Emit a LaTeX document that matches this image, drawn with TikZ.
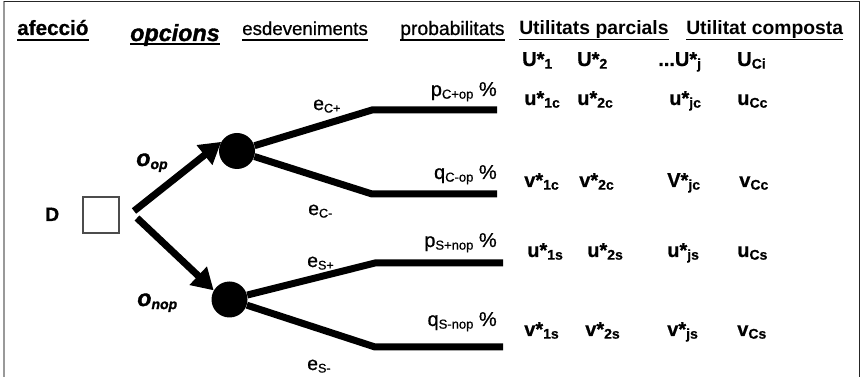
\documentclass[tikz,border=0pt]{standalone}
\usepackage{fontspec}
\usepackage{graphicx}
\setmainfont{Liberation Sans}
\newfontfamily\heavyit[FakeBold=1.5]{Liberation Sans Bold Italic}
\newfontfamily\medium[FakeBold=0.7]{Liberation Sans}
\newfontfamily\heavy[FakeBold=0.6]{Liberation Sans Bold}
\usetikzlibrary{arrows.meta}

% small lowered index text
\newcommand\lo[2][0.65]{\raisebox{-0.25ex}{\scalebox{#1}{#2}}}
\newcommand\fsz[1]{\fontsize{#1}{#1}\selectfont}

\begin{document}
\begin{tikzpicture}[x=0.75pt,y=-0.75pt,
  txt/.style={inner sep=0pt, anchor=base west},
  head/.style={txt, font=\medium\fsz{14.5}},
  headbf/.style={txt, font=\bfseries\fsz{14.5}},
  val/.style={txt, font=\heavy\fsz{15}},
  prob/.style={inner sep=0pt, anchor=base east, font=\medium\fsz{15}},
  evt/.style={txt, font=\medium\fsz{14.5}},
  opt/.style={txt, font=\heavyit\fsz{17.5}},
  ulthick/.style={line width=1.5pt},
  ulthin/.style={line width=0.8pt},
  branch/.style={line width=5.25pt},
  choice/.style={branch, -{Triangle[length=16pt,width=18pt]}},
  chance/.style={circle, fill=black, inner sep=0pt, minimum size=27pt},
  decision/.style={draw=black!70, line width=0.8pt, fill=white, inner sep=0pt, minimum size=27pt}
]
\useasboundingbox (0,0) rectangle (864,377);

% frame (open at the bottom)
\draw[gray!80, line width=1.3pt] (4,377) -- (4,1.5);
\draw[black!85, line width=1pt] (4,1.5) -- (859.5,1.5) -- (859.5,377);

% column headings
\node[headbf, font=\heavy\fsz{15.5}] (hAf) at (17,35) {afecció};
\node[opt] (hOp) at (130,41) {opcions};
\node[head, font=\medium\fsz{14}] (hEs) at (242,35) {esdeveniments};
\node[head] (hPr) at (400,35) {probabilitats};
\node[headbf] (hUp) at (519,35) {Utilitats parcials};
\node[headbf] (hUc) at (686,35) {Utilitat composta};
\foreach \n in {hAf,hEs,hPr}
  \draw[ulthick] ([yshift=-3.5pt]\n.base west) -- ([yshift=-3.5pt]\n.base east);
\draw[ulthick] ([yshift=-2.6pt]hOp.base west) -- ([yshift=-2.6pt]hOp.base east);
\foreach \n in {hUp,hUc}
  \draw[ulthin] ([yshift=-3.3pt]\n.base west) -- ([yshift=-3.3pt]\n.base east);

% decision node and options
\node[txt, font=\heavy\fsz{14.5}] (dLab) at (45,221) {D};
\node[decision] (dsq) at (101,215) {};
\node[chance] (c1) at (237,151) {};
\node[chance] (c2) at (229.5,299.5) {};
\coordinate (s1) at (134,211);
\coordinate (s2) at (137,218);
\draw[choice] (s1) -- (c1.150);
\draw[choice] (s2) -- (c2.150);
\node[opt] (oOp) at (136,166) {o\lo[0.6]{op}};
\node[opt] (oNop) at (137,306) {o\lo[0.6]{nop}};

% event branches
\coordinate (b1) at (372,110); \coordinate (e1) at (497,110);
\coordinate (b2) at (372,194); \coordinate (e2) at (497,194);
\coordinate (b3) at (375,263); \coordinate (e3) at (503,263);
\coordinate (b4) at (375,347); \coordinate (e4) at (503,347);
\draw[branch] (c1) -- (b1) -- (e1);
\draw[branch] (c1) -- (b2) -- (e2);
\draw[branch] (c2) -- (b3) -- (e3);
\draw[branch] (c2) -- (b4) -- (e4);

\node[evt] (ev1) at (313,110) {e\lo{C+}};
\node[evt] (ev2) at (308,215) {e\lo{C-}};
\node[evt] (ev3) at (307,267) {e\lo{S+}};
\node[evt] (ev4) at (307,370) {e\lo{S-}};

% probabilities
\node[prob] (p1) at (497,96) {p\lo{C+op} \%};
\node[prob] (p2) at (497,179) {q\lo{C-op} \%};
\node[prob] (p3) at (497,247) {p\lo{S+nop} \%};
\node[prob] (p4) at (497,326) {q\lo{S-nop} \%};

% utilities
\node[val] (uh1) at (522,66) {U*\lo[0.7]{1}};
\node[val] (uh2) at (577,66) {U*\lo[0.7]{2}};
\node[val] (uh3) at (658,66) {...U*\lo[0.7]{j}};
\node[val] (uh4) at (737,66) {U\lo[0.7]{Ci}};

\node[val] (r1a) at (524,105) {u*\lo[0.7]{1c}};
\node[val] (r1b) at (577,105) {u*\lo[0.7]{2c}};
\node[val] (r1c) at (669,105) {u*\lo[0.7]{jc}};
\node[val] (r1d) at (737,105) {u\lo[0.7]{Cc}};

\node[val] (r2a) at (524,187) {v*\lo[0.7]{1c}};
\node[val] (r2b) at (579,187) {v*\lo[0.7]{2c}};
\node[val] (r2c) at (667,187) {V*\lo[0.7]{jc}};
\node[val] (r2d) at (739,187) {v\lo[0.7]{Cc}};

\node[val] (r3a) at (527,257) {u*\lo[0.7]{1s}};
\node[val] (r3b) at (587,257) {u*\lo[0.7]{2s}};
\node[val] (r3c) at (667,257) {u*\lo[0.7]{js}};
\node[val] (r3d) at (737,257) {u\lo[0.7]{Cs}};

\node[val] (r4a) at (524,336) {v*\lo[0.7]{1s}};
\node[val] (r4b) at (585,336) {v*\lo[0.7]{2s}};
\node[val] (r4c) at (667,336) {v*\lo[0.7]{js}};
\node[val] (r4d) at (737,336) {v\lo[0.7]{Cs}};
\end{tikzpicture}
\end{document}
